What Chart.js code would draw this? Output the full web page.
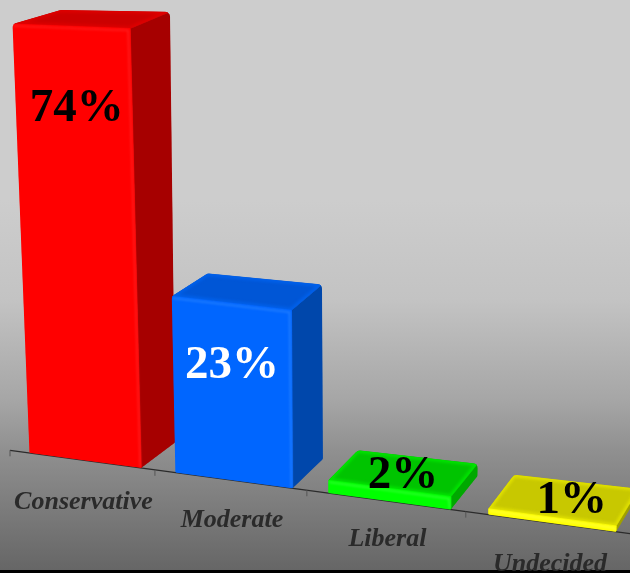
<!DOCTYPE html>
<html><head><meta charset="utf-8">
<style>html,body{margin:0;padding:0;background:#000;overflow:hidden}canvas{display:block}</style>
<script src="https://cdn.jsdelivr.net/npm/chart.js@4/dist/chart.umd.js"></script>
</head><body><canvas id="c" width="630" height="573"></canvas>
<script>
const categories = ['Conservative','Moderate','Liberal','Undecided'];
const shares = [74,23,2,1];
const frontColors = ['#ff0000','#0066ff','#00ff00','#ffff00'];
const topColors = ['#cc0000','#0056d6','#00c400','#c8c800'];
const rimColors = ['#dd0000','#0060ea','#00e400','#e0e000'];
const sideColors = ['#a60000','#0047ab','#00a800','#a0a000'];
const glowColors = ['rgba(255,50,50,.6)','rgba(50,140,255,.7)','rgba(70,255,70,.7)','rgba(255,255,90,.7)'];
const labelColors = ['#000000','#ffffff','#000000','#000000'];
const labelShift = [[6,83],[1,63],[14,-13],[20,-16]];
const categoryDrop = [42,40,38,41];

class ForeshortenedScale extends Chart.LinearScale {
  static id = 'foreshortened';
  static defaults = Chart.LinearScale.defaults;
  getPixelForValue(v){ const p = Math.pow(Math.max(v,0),1.15); return this.bottom - 910*p/(154.7+p); }
}
Chart.register(ForeshortenedScale);

const X = u => 10 + .898*u + .000141*u*u;
const Y = x => 453 + .1345*(x-30);
function P(u,h,back){
  const x0 = X(u), y0 = Y(x0);
  const H = h + h*h*5e-7*(x0-85);
  let x = x0 + H*.00013*(x0-334), y = y0 - H;
  if(back){ x += 37.5-.024*x0 + Math.sqrt(H)*.0025*Math.max(250-x0,0); y += -(22+.025*x0) + H*.02; }
  return [x,y];
}
function rounded(ctx,pts,radii){
  const n=pts.length, m=(a,b)=>[(a[0]+b[0])/2,(a[1]+b[1])/2], s=m(pts[n-1],pts[0]);
  ctx.beginPath(); ctx.moveTo(s[0],s[1]);
  pts.forEach((p,i)=>{ const q=pts[(i+1)%n]; ctx.arcTo(p[0],p[1],q[0],q[1],radii[i]); });
  ctx.closePath();
}
function poly(ctx,pts){
  ctx.beginPath(); pts.forEach((p,i)=> i?ctx.lineTo(p[0],p[1]):ctx.moveTo(p[0],p[1])); ctx.closePath();
}
function face(ctx,pts,color){
  poly(ctx,pts); ctx.fillStyle=color; ctx.strokeStyle=color; ctx.lineWidth=.8; ctx.fill(); ctx.stroke();
}
const scene = {
  id:'scene',
  beforeDraw(chart){
    const ctx=chart.ctx, W=chart.width, Hh=chart.height;
    const g=ctx.createLinearGradient(0,0,0,570);
    g.addColorStop(0,'#cdcdcd'); g.addColorStop(200/570,'#cdcdcd'); g.addColorStop(300/570,'#c3c3c3');
    g.addColorStop(400/570,'#a6a6a6'); g.addColorStop(450/570,'#909090'); g.addColorStop(1,'#666666');
    ctx.fillStyle=g; ctx.fillRect(0,0,W,570);
    ctx.fillStyle='#000'; ctx.fillRect(0,570,W,Hh-570);
  },
  afterDatasetsDraw(chart){
    const ctx=chart.ctx, meta=chart.getDatasetMeta(0), xs=chart.scales.x;
    const pitch=xs.getPixelForValue(1)-xs.getPixelForValue(0);
    ctx.save();
    ctx.strokeStyle='#2b2b2b'; ctx.lineWidth=1.3;
    ctx.beginPath(); ctx.moveTo(X(0),Y(X(0))); ctx.lineTo(X(xs.right+10),Y(X(xs.right+10))); ctx.stroke();
    ctx.strokeStyle='#555'; ctx.lineWidth=1;
    for(let i=0;i<=categories.length;i++){
      const x=X(xs.getPixelForValue(0)-pitch/2+i*pitch);
      ctx.beginPath(); ctx.moveTo(x,Y(x)); ctx.lineTo(x,Y(x)+6); ctx.stroke();
    }
    ctx.font='italic bold 26px "Liberation Serif"'; ctx.fillStyle='#2a2a2a';
    ctx.textAlign='center'; ctx.textBaseline='middle';
    categories.forEach((c,i)=>{
      const x=X(xs.getPixelForValue(i)+2);
      ctx.fillText(c,x,Y(x)+categoryDrop[i]);
    });
    meta.data.forEach((bar,i)=>{
      const h=bar.base-bar.y, l=bar.x-bar.width/2+3.5, r=bar.x+bar.width/2+3.5;
      const fl=P(l,h), fr=P(r,h), bl=P(l,h,1), br=P(r,h,1), gl=P(l,0), gr=P(r,0), gbr=P(r,0,1);
      const low=Math.min(5,(gl[1]-fl[1])/2);
      ctx.save();
      rounded(ctx,[gl,fl,bl,br,gbr,gr],[1.5,low,6,5,3,2]); ctx.clip();
      face(ctx,[fr,br,gbr,gr],sideColors[i]);
      face(ctx,[fl,bl,br,fr],topColors[i]);
      ctx.save(); poly(ctx,[fl,bl,br,fr]); ctx.clip();
      ctx.filter='blur(1.5px)'; ctx.strokeStyle=rimColors[i]; ctx.lineWidth=5;
      poly(ctx,[fl,bl,br,fr]); ctx.stroke(); ctx.restore();
      face(ctx,[gl,fl,fr,gr],frontColors[i]);
      ctx.filter='blur(0.8px)'; ctx.strokeStyle=glowColors[i]; ctx.lineWidth=1.6;
      ctx.beginPath(); ctx.moveTo(fl[0]+1,fl[1]+2); ctx.lineTo(fr[0]-2,fr[1]+2); ctx.lineTo(gr[0]-1,gr[1]-1); ctx.stroke();
      ctx.restore();
    });
    ctx.font='bold 47px "Liberation Serif"';
    meta.data.forEach((bar,i)=>{
      const h=bar.base-bar.y, c=P(bar.x+3.5,h);
      ctx.fillStyle=labelColors[i];
      ctx.fillText(shares[i]+'%',c[0]+labelShift[i][0],c[1]+labelShift[i][1]);
    });
    ctx.restore();
  }
};
new Chart(document.getElementById('c'),{
  type:'bar',
  data:{labels:categories,datasets:[{data:shares,backgroundColor:'rgba(0,0,0,0)',borderWidth:0,barPercentage:.77,categoryPercentage:1}]},
  options:{responsive:false,animation:false,layout:{padding:0},
    plugins:{legend:{display:false},tooltip:{enabled:false},title:{display:false}},
    scales:{x:{display:false,type:'category'},y:{display:false,type:'foreshortened',min:0,max:100}}},
  plugins:[scene]
});
</script></body></html>
